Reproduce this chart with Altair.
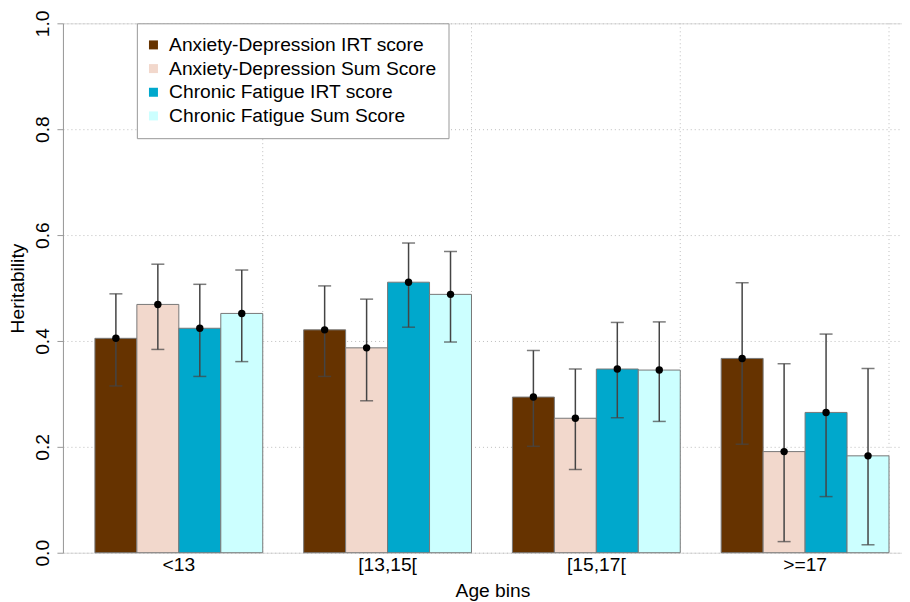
import altair as alt
import pandas as pd

ages = ["<13", "[13,15[", "[15,17[", ">=17"]
series = ["Anxiety-Depression IRT score", "Anxiety-Depression Sum Score",
          "Chronic Fatigue IRT score", "Chronic Fatigue Sum Score"]
colors = ["#663300", "#F2D8CC", "#00A8CC", "#CCFFFF"]

ad_irt = [0.405, 0.421, 0.294, 0.367]
ad_sum = [0.469, 0.387, 0.254, 0.191]
cf_irt = [0.424, 0.511, 0.347, 0.265]
cf_sum = [0.452, 0.488, 0.345, 0.183]

ad_irt_lo = [0.315, 0.333, 0.201, 0.205]
ad_irt_hi = [0.489, 0.504, 0.382, 0.510]
ad_sum_lo = [0.384, 0.287, 0.157, 0.021]
ad_sum_hi = [0.545, 0.479, 0.347, 0.357]
cf_irt_lo = [0.333, 0.426, 0.255, 0.106]
cf_irt_hi = [0.507, 0.585, 0.435, 0.413]
cf_sum_lo = [0.361, 0.398, 0.248, 0.015]
cf_sum_hi = [0.534, 0.569, 0.436, 0.348]

vals = [ad_irt, ad_sum, cf_irt, cf_sum]
los = [ad_irt_lo, ad_sum_lo, cf_irt_lo, cf_sum_lo]
his = [ad_irt_hi, ad_sum_hi, cf_irt_hi, cf_sum_hi]

rows = []
for s, v, lo, hi in zip(series, vals, los, his):
    for i, a in enumerate(ages):
        rows.append({"age": a, "series": s, "value": v[i], "lo": lo[i], "hi": hi[i]})
df = pd.DataFrame(rows)
grid_df = pd.DataFrame({"age": ages})

FONT = "Liberation Sans"
FS = 19.25

x_scale = alt.Scale(domain=ages, paddingInner=0.196, paddingOuter=0.1077, align=0.711)
x_axis = alt.Axis(title="Age bins", labelAngle=0, ticks=False, tickSize=0, domain=False,
                  grid=False, labelPadding=3, titlePadding=7, titleX=430,
                  labelFontSize=FS, titleFontSize=FS, labelFont=FONT, titleFont=FONT,
                  labelColor="#000", titleColor="#000", titleFontWeight="normal")
y_scale = alt.Scale(domain=[0, 1], nice=False, zero=True)
y_axis = alt.Axis(title="Heritability", values=[0, 0.2, 0.4, 0.6, 0.8, 1.0], format=".1f",
                  labelAngle=270, labelAlign="center", labelBaseline="bottom",
                  tickSize=6, labelPadding=4, titlePadding=6,
                  domainColor="#999", tickColor="#999",
                  grid=True, gridColor="#bdbdbd", gridDash=[1, 3], gridWidth=1,
                  labelFontSize=FS, titleFontSize=FS, labelFont=FONT, titleFont=FONT,
                  labelColor="#000", titleColor="#000", titleFontWeight="normal")

X = alt.X("age:N", scale=x_scale, axis=x_axis, sort=ages)
XO = alt.XOffset("series:N", scale=alt.Scale(domain=series, paddingInner=0, paddingOuter=0), sort=series)

vgrid = alt.Chart(grid_df).mark_rule(color="#bdbdbd", strokeDash=[1, 3], strokeWidth=1).encode(
    x=alt.X("age:N", scale=x_scale, axis=x_axis, sort=ages, bandPosition=1)
)

bars = alt.Chart(df).mark_bar(stroke="#777", strokeWidth=1).encode(
    x=X, xOffset=XO,
    y=alt.Y("value:Q", scale=y_scale, axis=y_axis),
    color=alt.Color("series:N", scale=alt.Scale(domain=series, range=colors), sort=series,
                    legend=alt.Legend(title=None, orient="none", legendX=74, legendY=0,
                                      fillColor="white", strokeColor="#999", padding=12,
                                      symbolType="square", symbolSize=81, symbolStrokeWidth=0,
                                      symbolOffset=-5,
                                      labelFontSize=FS, labelFont=FONT, labelColor="#000",
                                      labelOffset=6, rowPadding=3.7, labelLimit=0)),
)

err = alt.Chart(df).mark_rule(color="#444", strokeWidth=1.5).encode(
    x=X, xOffset=XO,
    y=alt.Y("lo:Q", scale=y_scale, axis=y_axis), y2="hi:Q",
)
cap_lo = alt.Chart(df).mark_tick(color="#444", thickness=1.5, size=13).encode(
    x=X, xOffset=XO, y=alt.Y("lo:Q", scale=y_scale, axis=y_axis),
)
cap_hi = alt.Chart(df).mark_tick(color="#444", thickness=1.5, size=13).encode(
    x=X, xOffset=XO, y=alt.Y("hi:Q", scale=y_scale, axis=y_axis),
)
pts = alt.Chart(df).mark_circle(color="#000", size=55, opacity=1).encode(
    x=X, xOffset=XO, y=alt.Y("value:Q", scale=y_scale, axis=y_axis),
)

chart = alt.layer(vgrid, bars, err, cap_lo, cap_hi, pts).properties(
    width=840, height=530,
    padding={"left": 1, "top": 1, "right": 0, "bottom": 0},
).configure_view(strokeWidth=0).configure(background="white")

chart.save("out.html", embed_options={"renderer": "svg", "actions": False})
